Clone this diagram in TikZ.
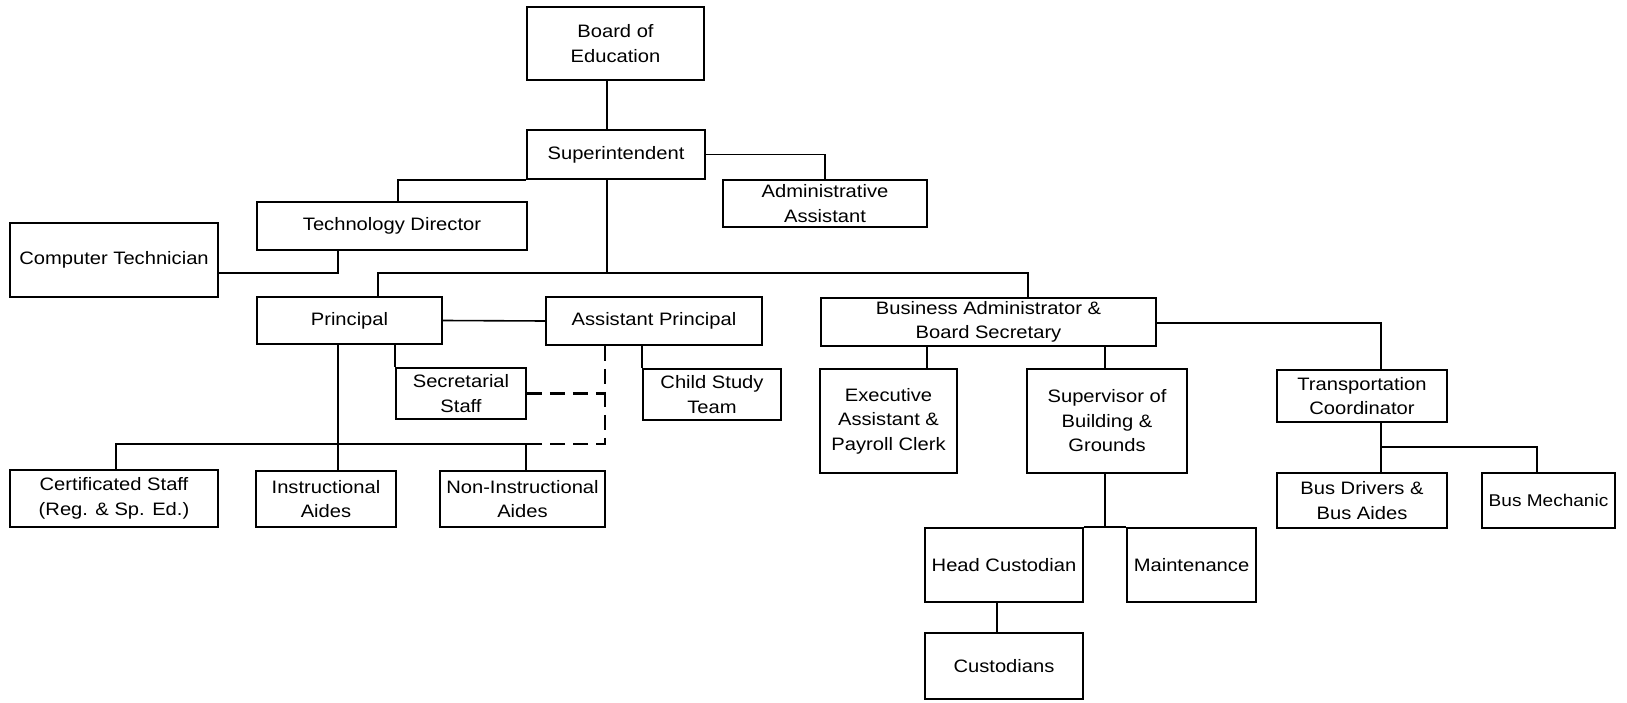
\documentclass[tikz,border=0pt]{standalone}
\usepackage{fontspec}
\setmainfont[FakeStretch=1.12]{Liberation Sans}
\begin{document}
\begin{tikzpicture}[x=1pt,y=-1pt,
  orgbox/.style={draw, line width=1.8pt, align=center, inner sep=0pt,
    font=\fontsize{18}{24.5}\selectfont},
  link/.style={line width=1.6pt},
  dlink/.style={line width=2.6pt, dash pattern=on 15pt off 8pt}]
\fill[white] (0,0) rectangle (1627,703);
\useasboundingbox (0,0) rectangle (1627,703);
% boxes
\node[orgbox, minimum width=177pt, minimum height=73pt] (board) at (615.5,43.5) {Board of\\Education};
\node[orgbox, minimum width=178pt, minimum height=49pt] (sup) at (616,154.5) {Superintendent};
\node[orgbox, minimum width=204pt, minimum height=47pt] (admin) at (825,203.5) {Administrative\\Assistant};
\node[orgbox, minimum width=270pt, minimum height=48pt] (techdir) at (392,226) {Technology Director};
\node[orgbox, minimum width=208pt, minimum height=74pt] (comptech) at (114,260) {Computer Technician};
\node[orgbox, minimum width=185pt, minimum height=47pt] (principal) at (349.5,320.5) {Principal};
\node[orgbox, minimum width=216pt, minimum height=48pt] (asstprin) at (654,321) {Assistant Principal};
\node[orgbox, minimum width=335pt, minimum height=48pt] (busadmin) at (988.5,322) {Business Administrator \&\\Board Secretary};
\node[orgbox, minimum width=130pt, minimum height=51pt] (secstaff) at (461,393.5) {Secretarial\\Staff};
\node[orgbox, minimum width=138pt, minimum height=51pt] (cst) at (712,394.5) {Child Study\\Team};
\node[orgbox, minimum width=137pt, minimum height=104pt] (exec) at (888.5,421) {Executive\\Assistant \&\\Payroll Clerk};
\node[orgbox, minimum width=160pt, minimum height=104pt] (superv) at (1107,421) {Supervisor of\\Building \&\\Grounds};
\node[orgbox, minimum width=170pt, minimum height=52pt] (trans) at (1362,396) {Transportation\\Coordinator};
\node[orgbox, minimum width=208pt, minimum height=57pt] (cert) at (114,498.5) {Certificated Staff\\(Reg. \& Sp. Ed.)};
\node[orgbox, minimum width=140pt, minimum height=56pt] (instr) at (326,499) {Instructional\\Aides};
\node[orgbox, minimum width=165pt, minimum height=56pt] (noninstr) at (522.5,499) {Non-Instructional\\Aides};
\node[orgbox, minimum width=170pt, minimum height=55pt] (busdrivers) at (1362,500.5) {Bus Drivers \&\\Bus Aides};
\node[orgbox, minimum width=133pt, minimum height=55pt, font=\fontsize{17}{24}\selectfont] (busmech) at (1548.5,500.5) {Bus Mechanic};
\node[orgbox, minimum width=158pt, minimum height=74pt] (headcust) at (1004,565) {Head Custodian};
\node[orgbox, minimum width=129pt, minimum height=74pt] (maint) at (1191.5,565) {Maintenance};
\node[orgbox, minimum width=158pt, minimum height=66pt] (custodians) at (1004,666) {Custodians};
% guide coordinates
\coordinate (x116) at (116,0);
\coordinate (x338) at (338,0);
\coordinate (x378) at (378,0);
\coordinate (x398) at (398,0);
\coordinate (x526) at (526,0);
\coordinate (x605) at (605,0);
\coordinate (x607) at (607,0);
\coordinate (x927) at (927,0);
\coordinate (x997) at (997,0);
\coordinate (x1028) at (1028,0);
\coordinate (x1105) at (1105,0);
\coordinate (x1381) at (1381,0);
\coordinate (x1537) at (1537,0);
\coordinate (y273) at (0,273);
\coordinate (y323) at (0,323);
\coordinate (y393) at (0,393.5);
\coordinate (y444) at (0,444);
\coordinate (y447) at (0,447);
% connectors
\draw[link] (board.south -| x607) -- (sup.north -| x607);
\draw[link] (sup.east) -| (admin.north);
\draw[link] (sup.south west) -- (sup.south west -| x398) -- (techdir.north -| x398);
\draw[link] (techdir.south -| x338) -- (x338 |- y273) -- (comptech.east |- y273);
\draw[link] (sup.south -| x607) -- (x607 |- y273);
\draw[link] (principal.north -| x378) -- (x378 |- y273) -- (x1028 |- y273) -- (busadmin.north -| x1028);
\draw[link] (principal.east) -- (asstprin.west);
\draw[link] (principal.south -| secstaff.north west) -- (secstaff.north west);
\draw[link] (principal.south -| x338) -- (instr.north -| x338);
\draw[link] (cert.north -| x116) -- (x116 |- y444) -- (x526 |- y444) -- (noninstr.north -| x526);
\draw[dlink] (asstprin.south -| x605) -- (x605 |- y444) -- (x526 |- y444);
\draw[dlink] (secstaff.east) -- (x605 |- secstaff.east);
\draw[link] (asstprin.south -| cst.north west) -- (cst.north west);
\draw[link] (busadmin.south -| x927) -- (exec.north -| x927);
\draw[link] (busadmin.south -| x1105) -- (superv.north -| x1105);
\draw[link] (busadmin.east |- y323) -- (x1381 |- y323) -- (trans.north -| x1381);
\draw[link] (trans.south -| x1381) -- (busdrivers.north -| x1381);
\draw[link] (x1381 |- y447) -- (x1537 |- y447) -- (busmech.north -| x1537);
\draw[link] (superv.south -| x1105) -- (x1105 |- headcust.north);
\draw[link] (headcust.north east) -- (maint.north west);
\draw[link] (headcust.south -| x997) -- (custodians.north -| x997);
\end{tikzpicture}
\end{document}
